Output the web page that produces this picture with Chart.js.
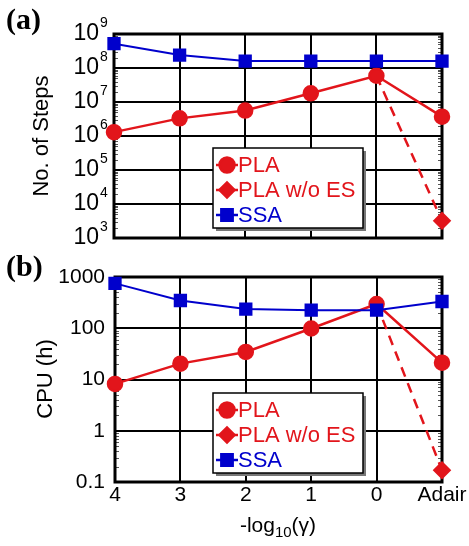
<!DOCTYPE html>
<html>
<head>
<meta charset="utf-8">
<script src="https://cdn.jsdelivr.net/npm/chart.js@4.4.0/dist/chart.umd.min.js"></script>
<style>
  body { margin: 0; background: #fff; }
  #wrap { position: relative; width: 469px; height: 546px; }
  canvas { position: absolute; left: 0; }
  #steps { top: 0; }
  #cpu { top: 250px; }
</style>
</head>
<body>
<div id="wrap">
  <canvas id="steps" width="469" height="250"></canvas>
  <canvas id="cpu" width="469" height="296"></canvas>
</div>
<script>
// categories (x axis)
const categorias = ["4", "3", "2", "1", "0", "Adair"];

// (a) number of steps
const passosPLA = [1.3e6, 3.3e6, 5.6e6, 1.8e7, 5.9e7, 3.7e6];
const passosSemES = [null, null, null, null, 5.9e7, 3.2e3];
const passosSSA = [5.2e8, 2.4e8, 1.6e8, 1.6e8, 1.6e8, 1.6e8];
const ticksPassos = [1e3, 1e4, 1e5, 1e6, 1e7, 1e8, 1e9];
const expoentesPassos = ["3", "4", "5", "6", "7", "8", "9"];

// (b) CPU time (h)
const cpuPLA = [8.2, 20.4, 34.5, 99, 297, 21.3];
const cpuSemES = [null, null, null, null, 297, 0.17];
const cpuSSA = [750, 348, 237, 225, 225, 333];
const ticksCpu = [0.1, 1, 10, 100, 1000];
const rotulosCpu = ["0.1", "1", "10", "100", "1000"];

const nomes = ["PLA", "PLA w/o ES", "SSA"];

const VERMELHO = "#e2151b";
const AZUL = "#0000cc";
const FONTE = "'Liberation Sans', Arial, sans-serif";
const FONTE_PAINEL = "bold 30px 'Liberation Serif', 'Times New Roman', serif";

const montarDatasets = (pla, semES, ssa) => [
  {
    label: nomes[0], data: pla, borderColor: VERMELHO, backgroundColor: VERMELHO,
    borderWidth: 2.5, pointStyle: "circle", pointRadius: 7, pointHoverRadius: 7,
    order: 1, clip: false,
  },
  {
    label: nomes[1], data: semES, borderColor: VERMELHO, backgroundColor: VERMELHO,
    borderWidth: 2.5, borderDash: [10, 7], pointStyle: "rectRot",
    pointRadius: [0, 0, 0, 0, 0, 7.5], pointHoverRadius: 7.5, order: 2, clip: false,
  },
  {
    label: nomes[2], data: ssa, borderColor: AZUL, backgroundColor: AZUL,
    borderWidth: 2, pointStyle: "rect", pointRadius: 8, pointHoverRadius: 8,
    order: 0, clip: false,
  },
];

// plot frame + minor log ticks, drawn under the data
const moldura = {
  id: "moldura",
  beforeDatasetsDraw(chart) {
    const { ctx, chartArea: a } = chart;
    const y = chart.scales.y;
    ctx.save();
    ctx.strokeStyle = "#555";
    ctx.lineWidth = 1;
    const d0 = Math.round(Math.log10(y.min)), d1 = Math.round(Math.log10(y.max));
    for (let d = d0; d < d1; d++) {
      for (let k = 2; k <= 9; k++) {
        const py = Math.round(y.getPixelForValue(k * Math.pow(10, d))) + 0.5;
        ctx.beginPath();
        ctx.moveTo(a.left, py);
        ctx.lineTo(a.left + 4, py);
        ctx.moveTo(a.right, py);
        ctx.lineTo(a.right - 4, py);
        ctx.stroke();
      }
    }
    ctx.strokeStyle = "#000";
    ctx.lineWidth = 3;
    ctx.strokeRect(a.left, a.top, a.right - a.left, a.bottom - a.top);
    ctx.restore();
  },
};

// legend box with shadow, placed inside the plot
const legenda = {
  id: "legenda",
  afterDatasetsDraw(chart, args, opts) {
    const { ctx, chartArea: a } = chart;
    const x = a.left + opts.dx, y = a.top + opts.dy, w = 150, h = 80;
    ctx.save();
    ctx.fillStyle = "#777";
    ctx.fillRect(x + 3, y + 3, w, h);
    ctx.fillStyle = "#fff";
    ctx.fillRect(x, y, w, h);
    ctx.strokeStyle = "#000";
    ctx.lineWidth = 1.5;
    ctx.strokeRect(x, y, w, h);
    [0, 1, 2].forEach((i, k) => {
      const ds = chart.data.datasets[i];
      const cy = y + 17 + k * 25;
      ctx.strokeStyle = ds.borderColor;
      ctx.lineWidth = 2.5;
      ctx.setLineDash([]);
      ctx.beginPath();
      ctx.moveTo(x + 3, cy);
      ctx.lineTo(x + 25, cy);
      ctx.stroke();
      ctx.fillStyle = ds.borderColor;
      Chart.helpers.drawPoint(ctx, {
        pointStyle: ds.pointStyle, radius: ds.pointStyle === "rect" ? 8 : 7.5,
        rotation: 0, borderWidth: 1,
      }, x + 14, cy);
      ctx.font = "22px " + FONTE;
      ctx.textBaseline = "middle";
      ctx.textAlign = "left";
      ctx.fillText(ds.label, x + 25, cy + 1);
    });
    ctx.restore();
  },
};

const eixoX = (mostrar, altura) => ({
  type: "category",
  offset: false,
  grid: { color: "#000", lineWidth: 2, drawTicks: false },
  border: { display: false },
  ticks: { display: mostrar, color: "#000", font: { size: 21, family: FONTE }, padding: 1, maxRotation: 0, autoSkip: false },
  afterFit: (s) => { s.height = altura; },
});

const eixoY = (min, max, ticks) => ({
  type: "logarithmic",
  min: min, max: max,
  grid: { color: "#000", lineWidth: 2, drawTicks: false },
  border: { display: false },
  afterBuildTicks: (s) => { s.ticks = ticks.map((v) => ({ value: v })); },
  afterFit: (s) => { s.width = 114; },
});

// (a)
const yPassos = eixoY(1e3, 1e9, ticksPassos);
yPassos.ticks = { display: false };

new Chart(document.getElementById("steps"), {
  type: "line",
  data: { labels: categorias, datasets: montarDatasets(passosPLA, passosSemES, passosSSA) },
  options: {
    responsive: false,
    animation: false,
    layout: { padding: { top: 34, right: 27, left: 0, bottom: 0 } },
    plugins: { legend: { display: false }, tooltip: { enabled: false }, legenda: { dx: 99, dy: 114 } },
    scales: { x: eixoX(false, 12), y: yPassos },
  },
  plugins: [moldura, legenda, {
    id: "textosA",
    afterDraw(chart) {
      const { ctx } = chart;
      const y = chart.scales.y;
      ctx.save();
      ctx.fillStyle = "#000";
      ticksPassos.forEach((v, i) => {
        const py = y.getPixelForValue(v);
        ctx.font = "14px " + FONTE;
        ctx.textAlign = "left";
        ctx.textBaseline = "alphabetic";
        ctx.fillText(expoentesPassos[i], 100, py - 7);
        ctx.font = "23px " + FONTE;
        ctx.textAlign = "right";
        ctx.textBaseline = "middle";
        ctx.fillText("10", 99, py);
      });
      ctx.translate(42, 136);
      ctx.rotate(-Math.PI / 2);
      ctx.font = "22px " + FONTE;
      ctx.textAlign = "center";
      ctx.textBaseline = "middle";
      ctx.fillText("No. of Steps", 0, 0);
      ctx.restore();
      ctx.save();
      ctx.fillStyle = "#000";
      ctx.font = FONTE_PAINEL;
      ctx.textBaseline = "middle";
      ctx.textAlign = "left";
      ctx.fillText("(a)", 6, 21);
      ctx.restore();
    },
  }],
});

// (b)
const yCpu = eixoY(0.1, 1000, ticksCpu);
yCpu.ticks = {
  color: "#000", font: { size: 21, family: FONTE }, padding: 10,
  callback: (v) => rotulosCpu[ticksCpu.indexOf(v)],
};
yCpu.afterFit = (s) => { s.width = 115; };

new Chart(document.getElementById("cpu"), {
  type: "line",
  data: { labels: categorias, datasets: montarDatasets(cpuPLA, cpuSemES, cpuSSA) },
  options: {
    responsive: false,
    animation: false,
    layout: { padding: { top: 27, right: 27, left: 0, bottom: 0 } },
    plugins: { legend: { display: false }, tooltip: { enabled: false }, legenda: { dx: 98, dy: 116 } },
    scales: { x: eixoX(true, 64), y: yCpu },
  },
  plugins: [moldura, legenda, {
    id: "textosB",
    afterDraw(chart) {
      const { ctx } = chart;
      ctx.save();
      ctx.fillStyle = "#000";
      ctx.translate(46, 129);
      ctx.rotate(-Math.PI / 2);
      ctx.font = "22px " + FONTE;
      ctx.textAlign = "center";
      ctx.textBaseline = "middle";
      ctx.fillText("CPU (h)", 0, 0);
      ctx.restore();

      // x title with subscript
      ctx.save();
      ctx.fillStyle = "#000";
      ctx.textAlign = "left";
      ctx.textBaseline = "alphabetic";
      const partes = [["-log", 21, 0], ["10", 15, 5], ["(\u03b3)", 21, 0]];
      let larg = 0;
      partes.forEach(([t, s]) => { ctx.font = s + "px " + FONTE; larg += ctx.measureText(t).width; });
      let px = 278 - larg / 2;
      partes.forEach(([t, s, d]) => {
        ctx.font = s + "px " + FONTE;
        ctx.fillText(t, px, 282 + d);
        px += ctx.measureText(t).width;
      });
      ctx.font = FONTE_PAINEL;
      ctx.textBaseline = "middle";
      ctx.fillText("(b)", 6, 18);
      ctx.restore();
    },
  }],
});
</script>
</body>
</html>
